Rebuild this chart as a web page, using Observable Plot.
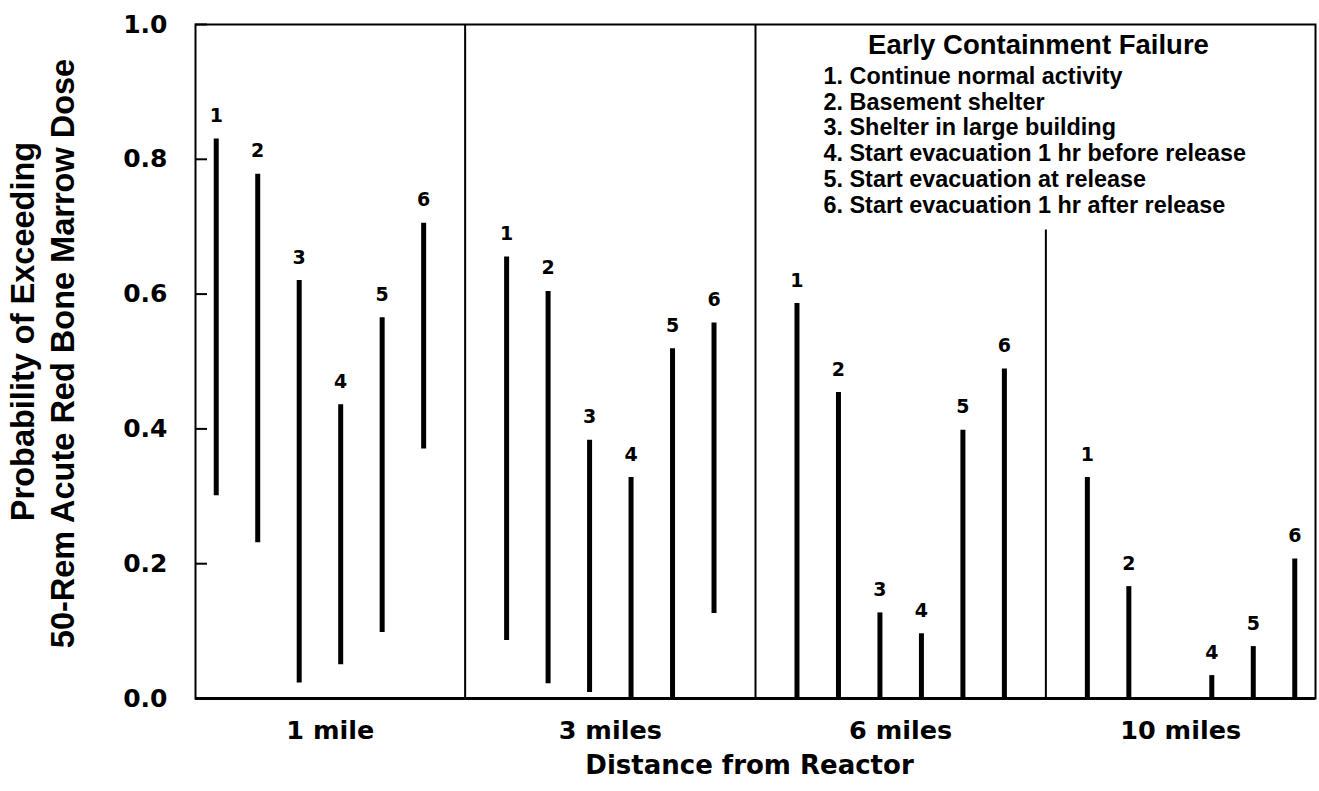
<!DOCTYPE html>
<html>
<head>
<meta charset="utf-8">
<script src="https://cdn.jsdelivr.net/npm/d3@7"></script>
<script src="https://cdn.jsdelivr.net/npm/@observablehq/plot@0.6"></script>
<style>
  html, body { margin: 0; padding: 0; background: #fff; }
  #chart svg { display: block; }
</style>
</head>
<body>
<div id="chart"></div>
<script>
// Distance groups along the x axis and the six protective actions
const distances = ["1 mile", "3 miles", "6 miles", "10 miles"];
const actions = [
  "Continue normal activity",
  "Basement shelter",
  "Shelter in large building",
  "Start evacuation 1 hr before release",
  "Start evacuation at release",
  "Start evacuation 1 hr after release"
];

// Probability ranges (upper / lower) for each action, per distance
const upper1mi  = [0.830, 0.778, 0.620, 0.436, 0.565, 0.705];
const lower1mi  = [0.301, 0.231, 0.023, 0.050, 0.098, 0.370];
const upper3mi  = [0.655, 0.604, 0.383, 0.328, 0.519, 0.557];
const lower3mi  = [0.086, 0.022, 0.009, 0.000, 0.000, 0.126];
const upper6mi  = [0.586, 0.454, 0.127, 0.096, 0.398, 0.489];
const lower6mi  = [0.000, 0.000, 0.000, 0.000, 0.000, 0.000];
const upper10mi = [0.328, 0.166, null,  0.034, 0.077, 0.207];
const lower10mi = [0.000, 0.000, null,  0.000, 0.000, 0.000];

const yTicks = [0, 0.2, 0.4, 0.6, 0.8, 1.0];
const legendTitle = "Early Containment Failure";
const xTitle = "Distance from Reactor";
const yTitle = ["Probability of Exceeding", "50-Rem Acute Red Bone Marrow Dose"];
// the divider under the legend stops at this probability
const legendFloor = 0.695;

// Each distance group takes 6 slots plus one gap slot
const slots = actions.length + 1;
const series = [[upper1mi, lower1mi], [upper3mi, lower3mi], [upper6mi, lower6mi], [upper10mi, lower10mi]];
const rows = series.flatMap(([hi, lo], g) =>
  hi.map((h, k) => ({distance: distances[g], action: k + 1, pos: g * slots + k + 1, hi: h, lo: lo[k]}))
).filter(d => d.hi != null);

const xMin = 0.5, xMax = distances.length * slots - 0.5;
const bounds = [xMin, ...distances.slice(1).map((_, g) => (g + 1) * slots), xMax];
const mids = distances.map((_, g) => (bounds[g] + bounds[g + 1]) / 2);
const fullDividers = bounds.slice(1, -2);
const lastDivider = bounds.slice(-2, -1);

const bold = {fontWeight: "bold", fill: "black"};

const chart = Plot.plot({
  width: 1319,
  height: 791,
  marginLeft: 195,
  marginRight: 4,
  marginTop: 24,
  marginBottom: 93,
  x: {domain: [xMin, xMax]},
  y: {domain: [0, 1]},
  style: {fontFamily: "'DejaVu Sans', sans-serif", background: "white", color: "black", overflow: "visible"},
  marks: [
    // y tick labels and inward tick marks
    Plot.axisY({ticks: yTicks, tickSize: 0, tickPadding: 28, tickFormat: d3.format(".1f"),
      fontSize: 25, fontFamily: "DejaVu Sans", ...bold, label: null}),
    Plot.axisY({ticks: yTicks, tickSize: 12, dx: 12, tickFormat: () => "", strokeWidth: 2, label: null}),
    // distance group labels
    Plot.axisX({ticks: mids, tickSize: 0, tickPadding: 22, tickFormat: d => distances[mids.indexOf(d)],
      fontSize: 25.5, fontFamily: "DejaVu Sans", ...bold, label: null}),
    // group dividers
    Plot.ruleX(fullDividers, {strokeWidth: 2}),
    Plot.ruleX(lastDivider, {y1: 0, y2: legendFloor, strokeWidth: 2}),
    // probability ranges
    Plot.ruleX(rows, {x: "pos", y1: "lo", y2: "hi", strokeWidth: 5, stroke: "black"}),
    Plot.text(rows, {x: "pos", y: "hi", text: "action", dy: -23, fontSize: 19, fontFamily: "DejaVu Sans", ...bold}),
    // frame
    Plot.frame({strokeWidth: 2}),
    Plot.ruleY([0], {strokeWidth: 3}),
    // axis titles
    Plot.text([yTitle[0]], {frameAnchor: "left", text: d => d, rotate: -90, dx: -172, dy: -30,
      textAnchor: "middle", lineAnchor: "middle", fontSize: 32.5, fontFamily: "Liberation Sans", ...bold}),
    Plot.text([yTitle[1]], {frameAnchor: "left", text: d => d, rotate: -90, dx: -132, dy: -8,
      textAnchor: "middle", lineAnchor: "middle", fontSize: 32.5, fontFamily: "Liberation Sans", ...bold}),
    Plot.text([xTitle], {frameAnchor: "bottom", text: d => d, dx: -6, dy: 67,
      textAnchor: "middle", lineAnchor: "middle", fontSize: 26, fontFamily: "DejaVu Sans", ...bold}),
    // legend
    Plot.text([legendTitle], {frameAnchor: "top-left", text: d => d, dx: 843, dy: 21,
      textAnchor: "middle", lineAnchor: "middle", fontSize: 27.5, fontFamily: "Liberation Sans", ...bold}),
    Plot.text([actions.map((a, i) => `${i + 1}. ${a}`).join("\n")], {frameAnchor: "top-left", text: d => d,
      dx: 628, dy: 115.5, textAnchor: "start", lineAnchor: "middle", lineHeight: 1.103,
      fontSize: 23.4, fontFamily: "Liberation Sans", ...bold})
  ]
});

document.getElementById("chart").appendChild(chart);
</script>
</body>
</html>
